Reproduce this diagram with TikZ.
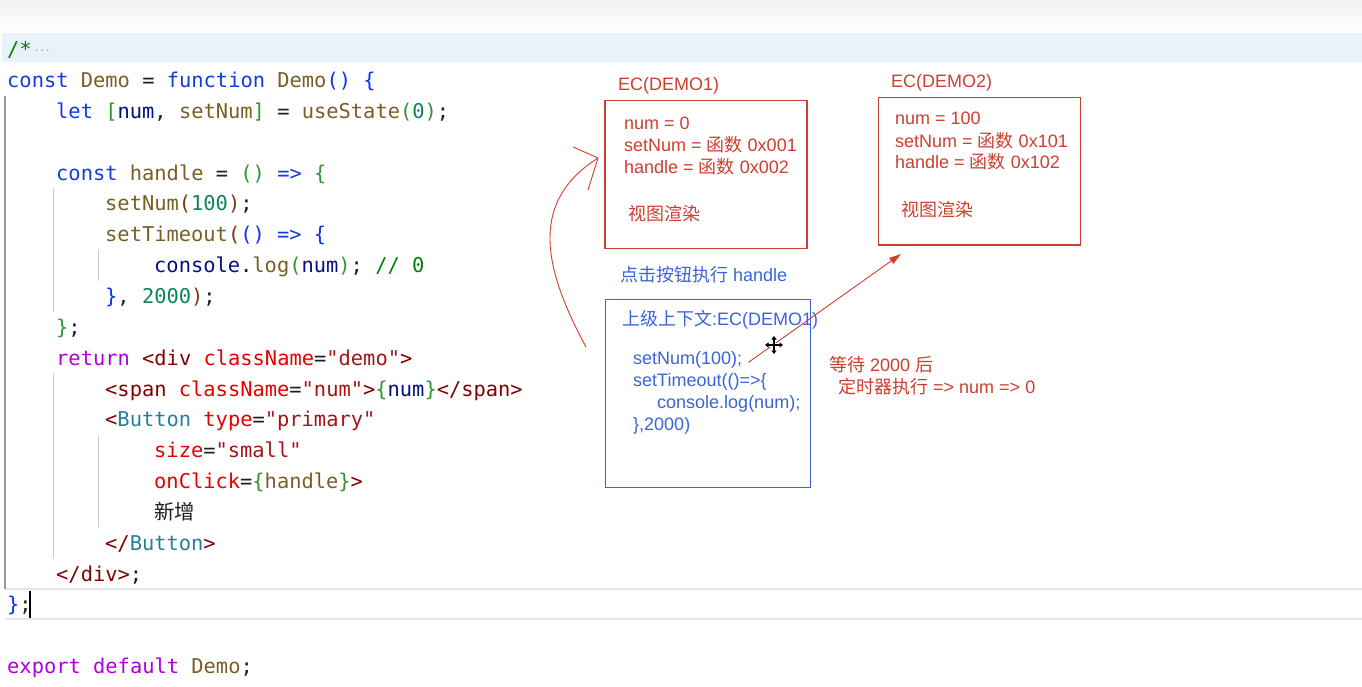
\documentclass[tikz,border=0pt]{standalone}
\usepackage{fontspec}
\usetikzlibrary{arrows.meta}
\newfontfamily\codefam{DejaVu Sans Mono}
\newfontfamily\notefam{Liberation Sans}
\newfontfamily\cjk{Noto Sans CJK SC}

% editor colours
\definecolor{cplain}{RGB}{30,30,30}
\definecolor{ckw}{RGB}{20,60,220}
\definecolor{cba}{RGB}{4,49,250}
\definecolor{cbb}{RGB}{49,147,49}
\definecolor{cbc}{RGB}{123,56,20}
\definecolor{cfn}{RGB}{121,94,38}
\definecolor{cvar}{RGB}{0,16,128}
\definecolor{cnum}{RGB}{9,134,88}
\definecolor{ccom}{RGB}{0,128,0}
\definecolor{cctl}{RGB}{175,0,219}
\definecolor{ctag}{RGB}{128,0,0}
\definecolor{catt}{RGB}{229,0,0}
\definecolor{cstr}{RGB}{163,21,21}
\definecolor{ccmp}{RGB}{38,127,153}
\definecolor{guide}{RGB}{205,205,205}
\definecolor{lineband}{RGB}{232,241,252}
% annotation colours
\definecolor{ecred}{RGB}{206,62,46}
\definecolor{ecblue}{RGB}{58,100,216}

\newcommand\cKw[1]{\textcolor{ckw}{#1}}
\newcommand\cBa[1]{\textcolor{cba}{#1}}
\newcommand\cBb[1]{\textcolor{cbb}{#1}}
\newcommand\cBc[1]{\textcolor{cbc}{#1}}
\newcommand\cFn[1]{\textcolor{cfn}{#1}}
\newcommand\cVar[1]{\textcolor{cvar}{#1}}
\newcommand\cNum[1]{\textcolor{cnum}{#1}}
\newcommand\cCom[1]{\textcolor{ccom}{#1}}
\newcommand\cCtl[1]{\textcolor{cctl}{#1}}
\newcommand\cTag[1]{\textcolor{ctag}{#1}}
\newcommand\cAtt[1]{\textcolor{catt}{#1}}
\newcommand\cStr[1]{\textcolor{cstr}{#1}}
\newcommand\cCmp[1]{\textcolor{ccmp}{#1}}

\tikzset{
  code/.style={anchor=base west, inner sep=0pt, text=cplain,
    font=\codefam\fontsize{20.4}{30}\selectfont},
  note/.style={anchor=base west, inner sep=0pt,
    font=\notefam\fontsize{18}{22}\selectfont},
  ecbox/.style={draw, line width=1.3pt, inner sep=0pt, outer sep=0pt},
}

\begin{document}
\begin{tikzpicture}[x=1pt,y=-1pt]
    \def\lh{30.85}
    \def\ya{87.5}

\useasboundingbox (0,0) rectangle (1362,687);

% --------------------
% editor background
% --------------------
\shade[top color=black!6, bottom color=white] (0,0) rectangle (1362,31);
\fill[lineband] (2,33) rectangle (1362,62);
\draw[black!9, line width=1.5pt] (5,589) -- (1362,589);
\draw[black!9, line width=1.5pt] (5,619) -- (1362,619);

% indent guides
\draw[black!40, line width=1.6pt] (5,96) -- (5,589);
\draw[guide] (53,188) -- (53,312);
\draw[guide] (98,250) -- (98,281);
\draw[guide] (53,373) -- (53,558);
\draw[guide] (98,435) -- (98,527);

% --------------------
% code lines
% --------------------
\node[code] (fold) at (7,56.6) {\cCom{/*}};
\node[code, text=black!45, font=\codefam\fontsize{9}{9}\selectfont] (folddots) at (34,52) {...};
\node[code] (l1) at (7,\ya) {\cKw{const} \cFn{Demo} = \cKw{function} \cFn{Demo}\cBa{()} \cBa{\{}};
\node[code] (l2) at (56,\ya+\lh) {\cKw{let} \cBb{[}\cVar{num}, \cFn{setNum}\cBb{]} = \cFn{useState}\cBb{(}\cNum{0}\cBb{)};};
\node[code] (l4) at (56,\ya+3*\lh) {\cKw{const} \cFn{handle} = \cBb{()} \cKw{=>} \cBb{\{}};
\node[code] (l5) at (105,\ya+4*\lh) {\cFn{setNum}\cBc{(}\cNum{100}\cBc{)};};
\node[code] (l6) at (105,\ya+5*\lh) {\cFn{setTimeout}\cBc{(}\cBa{()} \cKw{=>} \cBa{\{}};
\node[code] (l7) at (154,\ya+6*\lh) {\cVar{console}.\cFn{log}\cBb{(}\cVar{num}\cBb{)}; \cCom{// 0}};
\node[code] (l8) at (105,\ya+7*\lh) {\cBa{\}}, \cNum{2000}\cBc{)};};
\node[code] (l9) at (56,\ya+8*\lh) {\cBb{\}};};
\node[code] (l10) at (56,\ya+9*\lh) {\cCtl{return} \cTag{<div} \cAtt{className}=\cStr{"demo"}\cTag{>}};
\node[code] (l11) at (105,\ya+10*\lh) {\cTag{<span} \cAtt{className}=\cStr{"num"}\cTag{>}\cBb{\{}\cVar{num}\cBb{\}}\cTag{</span>}};
\node[code] (l12) at (105,\ya+11*\lh) {\cTag{<}\cCmp{Button} \cAtt{type}=\cStr{"primary"}};
\node[code] (l13) at (154,\ya+12*\lh) {\cAtt{size}=\cStr{"small"}};
\node[code] (l14) at (154,\ya+13*\lh) {\cAtt{onClick}=\cBb{\{}\cFn{handle}\cBb{\}}\cTag{>}};
\node[code] (l15) at (154,\ya+14*\lh) {{\cjk 新增}};
\node[code] (l16) at (105,\ya+15*\lh) {\cTag{</}\cCmp{Button}\cTag{>}};
\node[code] (l17) at (56,\ya+16*\lh) {\cTag{</div>};};
\node[code] (l18) at (7,\ya+17*\lh) {\cBa{\}};};
\node[code] (l20) at (7,\ya+19*\lh) {\cCtl{export} \cCtl{default} \cFn{Demo};};

% text cursor
\draw[black, line width=2pt] (30,591) -- (30,618);

% --------------------
% EC(DEMO1)
% --------------------
\node[ecbox, draw=ecred, minimum width=202pt, minimum height=147.5pt] (econe) at (706,174.5) {};
\node[note, text=ecred] (econetitle) at (618,90.7) {EC(DEMO1)};
\node[note, text=ecred] (oneA) at (624,129.3) {num = 0};
\node[note, text=ecred] (oneB) at (624,151.5) {setNum = {\cjk 函数} 0x001};
\node[note, text=ecred] (oneC) at (624,173.3) {handle = {\cjk 函数} 0x002};
\node[note, text=ecred] (oneD) at (628,220.5) {{\cjk 视图渲染}};

% --------------------
% EC(DEMO2)
% --------------------
\node[ecbox, draw=ecred, minimum width=202pt, minimum height=147.5pt] (ectwo) at (979.5,171.2) {};
\node[note, text=ecred] (ectwotitle) at (891,87.3) {EC(DEMO2)};
\node[note, text=ecred] (twoA) at (895,125) {num = 100};
\node[note, text=ecred] (twoB) at (895,147.3) {setNum = {\cjk 函数} 0x101};
\node[note, text=ecred] (twoC) at (895,169) {handle = {\cjk 函数} 0x102};
\node[note, text=ecred] (twoD) at (901,216.5) {{\cjk 视图渲染}};

% --------------------
% handle call
% --------------------
\node[note, text=ecblue] (click) at (620,281.7) {{\cjk 点击按钮执行} handle};
\node[ecbox, draw=ecblue, line width=1.1pt, minimum width=205.5pt, minimum height=188pt] (handlebox) at (707.8,393.3) {};
\node[note, text=ecblue] (parent) at (622,325) {{\cjk 上级上下文}:EC(DEMO1)};
\node[note, text=ecblue] (hA) at (633,364) {setNum(100);};
\node[note, text=ecblue] (hB) at (633,386) {setTimeout(()=>\{};
\node[note, text=ecblue] (hC) at (657,408.3) {console.log(num);};
\node[note, text=ecblue] (hD) at (633,430) {\},2000)};

% timer note
\node[note, text=ecred] (waitA) at (829,371.7) {{\cjk 等待} 2000 {\cjk 后}};
\node[note, text=ecred] (waitB) at (838,393.3) {{\cjk 定时器执行} => num => 0};

% --------------------
% arrows
% --------------------
\coordinate (backfoot) at (586,347);
\coordinate (backtip) at (598,158);
\draw[ecred, line width=0.9pt] (backfoot) .. controls (540,262) and (532,200) .. (backtip);
\draw[ecred, line width=0.9pt, line join=round] (573,147) -- (backtip) -- (588,190);

\coordinate (nexttip) at (901,254);
\draw[ecred, line width=0.9pt, -{Triangle[length=12pt,width=7pt]}] ([xshift=6pt,yshift=-3pt]hA.east) -- (nexttip);

% move cursor
\draw[white, line width=3.2pt] (765,345) -- (783,345) (774,336) -- (774,354);
\draw[black, line width=1.3pt, {Triangle[length=3.5pt,width=5pt]}-{Triangle[length=3.5pt,width=5pt]}] (765,345) -- (783,345);
\draw[black, line width=1.3pt, {Triangle[length=3.5pt,width=5pt]}-{Triangle[length=3.5pt,width=5pt]}] (774,336) -- (774,354);

\end{tikzpicture}
\end{document}
